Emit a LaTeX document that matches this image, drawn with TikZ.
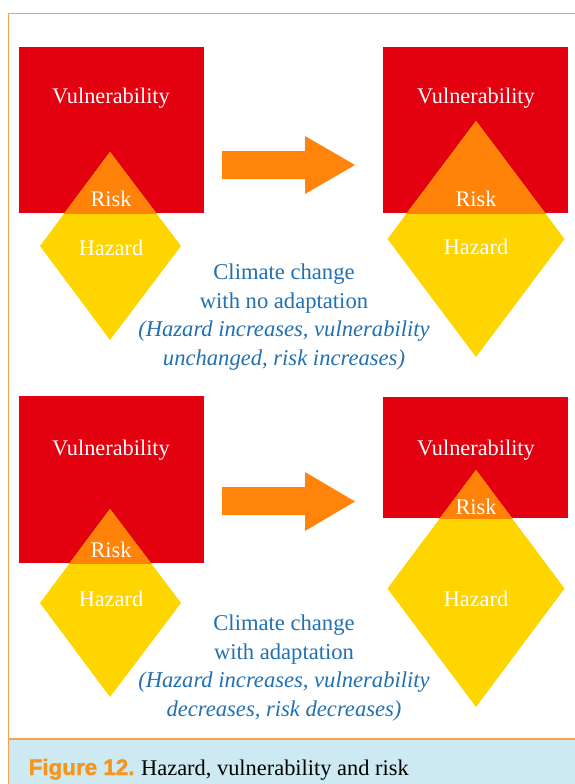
\documentclass[tikz,border=0pt]{standalone}
\usepackage{fontspec}
\setmainfont{Liberation Serif}
\newfontfamily\capsans[BoldFeatures={FakeBold=1.5}]{Liberation Sans}
\definecolor{vred}{HTML}{E3000F}
\definecolor{hyel}{HTML}{FFD500}
\definecolor{rorange}{HTML}{FF8209}
\definecolor{arrorange}{HTML}{FF8409}
\definecolor{frameor}{HTML}{F8A24E}
\definecolor{capblue}{HTML}{CDEAF2}
\definecolor{txtblue}{HTML}{2070B2}
\definecolor{figor}{HTML}{F7941D}
\tikzset{
  lbl/.style={text=white, inner sep=0pt, font=\fontsize{22.3}{26}\selectfont},
  note/.style={text=txtblue, align=center, inner sep=0pt, font=\fontsize{22.6}{28.8}\selectfont},
}
\begin{document}
\begin{tikzpicture}[x=1pt,y=-1pt]
\useasboundingbox (0,0) rectangle (575,784);
% frame and caption band
\fill[capblue] (8.5,739) rectangle (575,784);
\draw[frameor,line width=1.5pt] (575,13.5) -- (8.5,13.5) -- (8.5,784);
\draw[frameor,line width=1.5pt] (8.5,739) -- (575,739);
% ---- top-left
\fill[vred] (19,47) rectangle (204,213);
\fill[hyel] (110,152) -- (181,246) -- (110,340) -- (40,246) -- cycle;
\begin{scope}
\clip (19,47) rectangle (204,213);
\fill[rorange] (110,152) -- (181,246) -- (110,340) -- (40,246) -- cycle;
\end{scope}
% ---- top-right
\fill[vred] (383,47) rectangle (568,213);
\fill[hyel] (476,121) -- (564.5,239) -- (476,357) -- (387.5,239) -- cycle;
\begin{scope}
\clip (383,47) rectangle (568,213);
\fill[rorange] (476,121) -- (564.5,239) -- (476,357) -- (387.5,239) -- cycle;
\end{scope}
% ---- bottom-left
\fill[vred] (19,396) rectangle (204,563);
\fill[hyel] (110,509) -- (181,603) -- (110,697) -- (40,603) -- cycle;
\begin{scope}
\clip (19,396) rectangle (204,563);
\fill[rorange] (110,509) -- (181,603) -- (110,697) -- (40,603) -- cycle;
\end{scope}
% ---- bottom-right
\fill[vred] (383,397) rectangle (568,518);
\fill[hyel] (476,470) -- (564.5,588.5) -- (476,707) -- (387.5,588.5) -- cycle;
\begin{scope}
\clip (383,397) rectangle (568,518);
\fill[rorange] (476,470) -- (564.5,588.5) -- (476,707) -- (387.5,588.5) -- cycle;
\end{scope}
% arrows
\fill[arrorange] (222,151) -- (305,151) -- (305,136) -- (355,165) -- (305,194) -- (305,179) -- (222,179) -- cycle;
\fill[arrorange] (222,487) -- (305,487) -- (305,472) -- (355,501.5) -- (305,531) -- (305,515) -- (222,515) -- cycle;
% labels
\node[lbl] (v1) at (111,98.5) {Vulnerability};
\node[lbl] (r1) at (111,198.5) {Risk};
\node[lbl] (h1) at (111,247.5) {Hazard};
\node[lbl] (v2) at (476,98.5) {Vulnerability};
\node[lbl] (r2) at (476,198.5) {Risk};
\node[lbl] (h2) at (476,246.5) {Hazard};
\node[lbl] (v3) at (111,450.5) {Vulnerability};
\node[lbl] (r3) at (111,549.5) {Risk};
\node[lbl] (h3) at (111,598.5) {Hazard};
\node[lbl] (v4) at (476,450.5) {Vulnerability};
\node[lbl] (r4) at (476,506.5) {Risk};
\node[lbl] (h4) at (476,598.5) {Hazard};
% notes
\node[note] (n1) at (284,317) {Climate change\\with no adaptation\\\textit{(Hazard increases, vulnerability}\\\textit{unchanged, risk increases)}};
\node[note] (n2) at (284,668) {Climate change\\with adaptation\\\textit{(Hazard increases, vulnerability}\\\textit{decreases, risk decreases)}};
% caption
\node[anchor=base west, inner sep=0pt, font=\fontsize{22.4}{26}\selectfont] (cap) at (28.5,775)
  {{\capsans\bfseries\color{figor}Figure 12.}\hspace{0.3em}Hazard, vulnerability and risk};
\end{tikzpicture}
\end{document}
